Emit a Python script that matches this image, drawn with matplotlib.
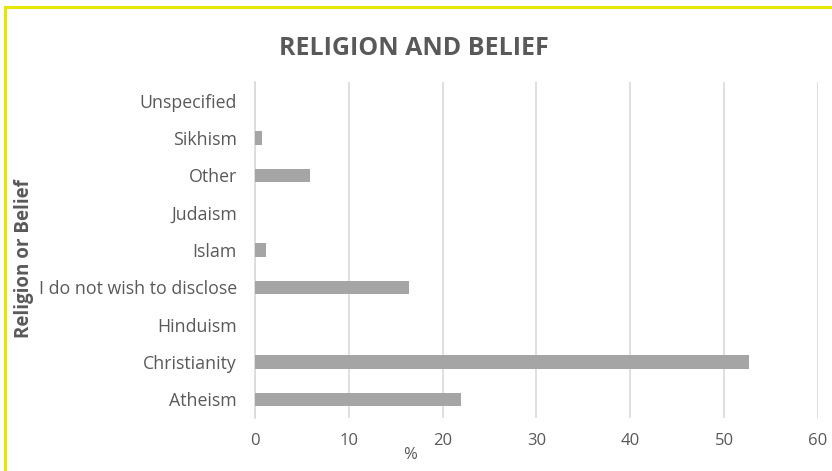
import matplotlib.pyplot as plt
from matplotlib.patches import Rectangle

# Share of respondents by religion or belief (%)
categories = ['Atheism', 'Christianity', 'Hinduism', 'I do not wish to disclose',
              'Islam', 'Judaism', 'Other', 'Sikhism', 'Unspecified']
percentages = [22.0, 52.7, 0, 16.4, 1.2, 0, 5.9, 0.75, 0]
x_ticks = [0, 10, 20, 30, 40, 50, 60]

plt.rcParams['font.family'] = ['Open Sans', 'DejaVu Sans']
text_color = '#595959'

fig = plt.figure(figsize=(8.32, 4.71), dpi=100)
ax = fig.add_axes([0.3065, 0.1125, 0.6765, 0.7135])

ax.barh(range(len(categories)), percentages, height=0.36, color='#a5a5a5', zorder=3)

ax.set_xlim(0, 60)
ax.set_ylim(-0.5, len(categories) - 0.5)
ax.set_xticks(x_ticks)
ax.set_yticks(range(len(categories)))
ax.set_yticklabels(categories)
ax.tick_params(axis='x', length=0, labelsize=12, labelcolor=text_color, pad=11)
ax.tick_params(axis='y', length=0, labelsize=12.8, labelcolor=text_color, pad=13)
ax.grid(axis='x', color='#d9d9d9', linewidth=1.2, zorder=0)
for side in ['top', 'right', 'bottom']:
    ax.spines[side].set_visible(False)
ax.spines['left'].set_color('#d9d9d9')
ax.spines['left'].set_linewidth(1.2)

fig.text(0.4975, 0.898, 'RELIGION AND BELIEF', ha='center', va='center',
         fontsize=18, fontweight='bold', color=text_color)
fig.text(0.493, 0.033, '%', ha='center', va='center', fontsize=12,
         color=text_color)
fig.text(0.029, 0.45, 'Religion or Belief', ha='center', va='center',
         rotation=90, fontsize=13.5, fontweight='bold', color=text_color)

# chart frame, cut off at the right and bottom edges
fig.patches.append(Rectangle((0.006, -0.05), 1.05, 1.035, transform=fig.transFigure,
                             fill=False, edgecolor='#e6e600', linewidth=2.2))

fig.savefig('out.png', dpi=100)
